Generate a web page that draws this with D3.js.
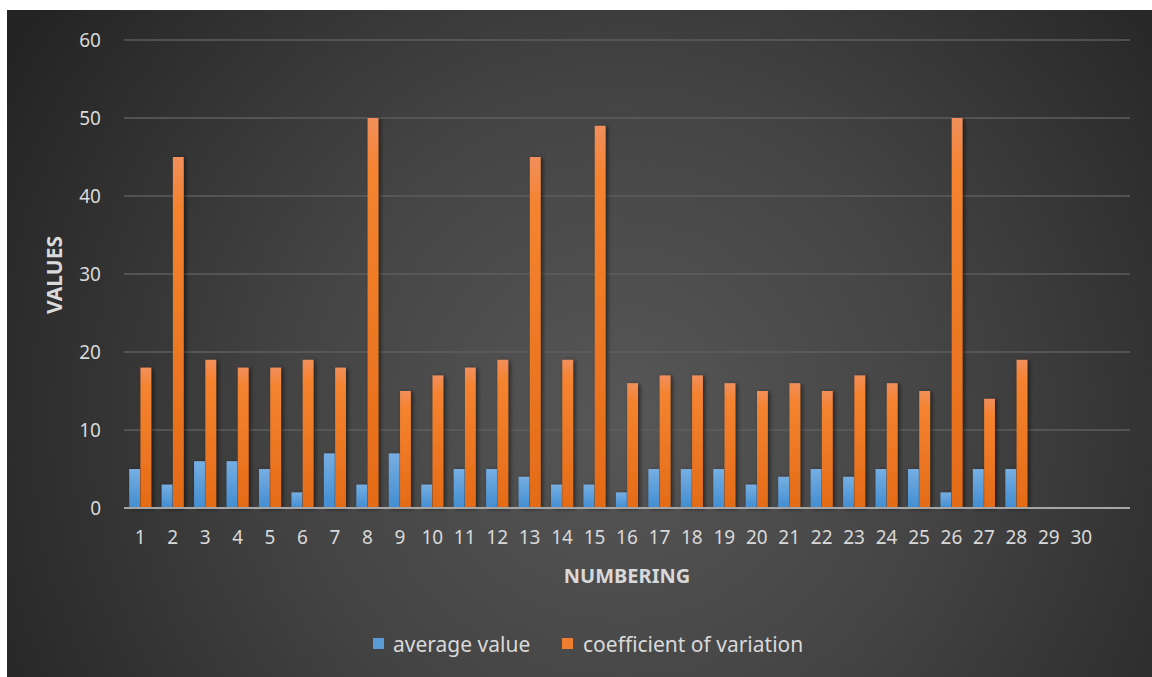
<!DOCTYPE html>
<html>
<head>
<meta charset="utf-8">
<script src="https://cdn.jsdelivr.net/npm/d3@7"></script>
<style>
  html, body { margin: 0; padding: 0; background: #ffffff; }
  svg { display: block; }
  text { font-family: "Noto Sans", "Open Sans", sans-serif; fill: #d9d9d9; }
</style>
</head>
<body>
<svg id="chart" width="1152" height="677"></svg>
<script>
// Category labels along the x axis
const numbering = d3.range(1, 31).map(String);
// Series values per category (29 and 30 have no data)
const averageValue = [5, 3, 6, 6, 5, 2, 7, 3, 7, 3, 5, 5, 4, 3, 3, 2, 5, 5, 5, 3, 4, 5, 4, 5, 5, 2, 5, 5, 0, 0];
const coefficientOfVariation = [18, 45, 19, 18, 18, 19, 18, 50, 15, 17, 18, 19, 45, 19, 49, 16, 17, 17, 16, 15, 16, 15, 17, 16, 15, 50, 14, 19, 0, 0];
const seriesNames = ["average value", "coefficient of variation"];
const yTicks = [0, 10, 20, 30, 40, 50, 60];

const svg = d3.select("#chart");
const defs = svg.append("defs");

// Dark radial background
const bg = defs.append("radialGradient").attr("id", "bg")
  .attr("gradientUnits", "userSpaceOnUse")
  .attr("cx", 620).attr("cy", 420).attr("r", 720);
bg.append("stop").attr("offset", "0%").attr("stop-color", "#575757");
bg.append("stop").attr("offset", "45%").attr("stop-color", "#444444");
bg.append("stop").attr("offset", "100%").attr("stop-color", "#232323");

// Bar fills: light cap at the top fading into the base colour
const gBlue = defs.append("linearGradient").attr("id", "gBlue").attr("x1", 0).attr("y1", 0).attr("x2", 0).attr("y2", 1);
gBlue.append("stop").attr("offset", "0%").attr("stop-color", "#76aee2");
gBlue.append("stop").attr("offset", "100%").attr("stop-color", "#428dd2");
const gOrange = defs.append("linearGradient").attr("id", "gOrange").attr("x1", 0).attr("y1", 0).attr("x2", 0).attr("y2", 1);
gOrange.append("stop").attr("offset", "0%").attr("stop-color", "#f28f5c");
gOrange.append("stop").attr("offset", "14%").attr("stop-color", "#f5832f");
gOrange.append("stop").attr("offset", "100%").attr("stop-color", "#e46b17");

const shadow = defs.append("filter").attr("id", "shadow")
  .attr("x", "-50%").attr("y", "-10%").attr("width", "200%").attr("height", "120%");
shadow.append("feDropShadow").attr("dx", 2).attr("dy", 1).attr("stdDeviation", 2.2)
  .attr("flood-color", "#000").attr("flood-opacity", 0.55);

svg.append("rect").attr("x", 7).attr("y", 10).attr("width", 1145).attr("height", 667).attr("fill", "url(#bg)");

const plotLeft = 124, plotRight = 1130;
const x = d3.scaleBand().domain(numbering).range([plotLeft, 1097.5]).paddingInner(0.32).paddingOuter(0.16);
const xSub = d3.scaleBand().domain(seriesNames).range([0, x.bandwidth()]).paddingInner(0.04);
const y = d3.scaleLinear().domain([0, 60]).range([508, 40]);

// Horizontal gridlines
svg.append("g").selectAll("line").data(yTicks.filter(d => d > 0)).join("line")
  .attr("x1", plotLeft).attr("x2", plotRight)
  .attr("y1", d => y(d)).attr("y2", d => y(d))
  .attr("stroke", "#5e5e5e").attr("stroke-width", 1.5);

// Y axis tick labels
const yAxis = d3.axisLeft(y).tickValues(yTicks).tickSize(0).tickPadding(0);
const gy = svg.append("g").attr("transform", "translate(101,0)").call(yAxis);
gy.select(".domain").remove();
gy.selectAll("text").attr("font-size", 19).attr("fill", "#d9d9d9").attr("dy", "0.35em")
  .style("font-family", "\"Noto Sans\", sans-serif");

// Bars
const rows = numbering.map((n, i) => ({ n, a: averageValue[i], c: coefficientOfVariation[i] }));
const bars = svg.append("g").attr("filter", "url(#shadow)");
bars.selectAll("rect.avg").data(rows.filter(d => d.a > 0)).join("rect").attr("class", "avg")
  .attr("x", d => x(d.n) + xSub(seriesNames[0]))
  .attr("y", d => y(d.a))
  .attr("width", xSub.bandwidth())
  .attr("height", d => y(0) - y(d.a))
  .attr("fill", "url(#gBlue)");
bars.selectAll("rect.cov").data(rows.filter(d => d.c > 0)).join("rect").attr("class", "cov")
  .attr("x", d => x(d.n) + xSub(seriesNames[1]))
  .attr("y", d => y(d.c))
  .attr("width", xSub.bandwidth())
  .attr("height", d => y(0) - y(d.c))
  .attr("fill", "url(#gOrange)");

// Baseline
svg.append("line").attr("x1", plotLeft).attr("x2", plotRight).attr("y1", y(0)).attr("y2", y(0))
  .attr("stroke", "#a6a6a6").attr("stroke-width", 2);

// X axis tick labels
const xAxis = d3.axisBottom(x).tickSize(0).tickPadding(0);
const gx = svg.append("g").attr("transform", "translate(0," + 537 + ")").call(xAxis);
gx.select(".domain").remove();
gx.selectAll("text").attr("font-size", 19).attr("fill", "#d9d9d9").attr("dy", "0.35em")
  .style("font-family", "\"Noto Sans\", sans-serif");

// Axis titles
svg.append("text").attr("x", 627).attr("y", 583).attr("text-anchor", "middle")
  .attr("font-size", 20).attr("font-weight", "bold").attr("fill", "#d9d9d9").text("NUMBERING");
svg.append("text").attr("transform", "translate(62,275) rotate(-90)").attr("text-anchor", "middle")
  .attr("font-size", 21).attr("font-weight", "bold").attr("fill", "#d9d9d9").text("VALUES");

// Legend
const legendItems = [
  { name: seriesNames[0], color: "#5b9bd5", sx: 373, tx: 393 },
  { name: seriesNames[1], color: "#ed7d31", sx: 562, tx: 583 }
];
const lg = svg.append("g");
lg.selectAll("rect").data(legendItems).join("rect")
  .attr("x", d => d.sx).attr("y", 638).attr("width", 11).attr("height", 11)
  .attr("fill", d => d.color);
lg.selectAll("text").data(legendItems).join("text")
  .attr("x", d => d.tx).attr("y", 652).attr("font-size", 21).attr("fill", "#d9d9d9")
  .text(d => d.name);
</script>
</body>
</html>
